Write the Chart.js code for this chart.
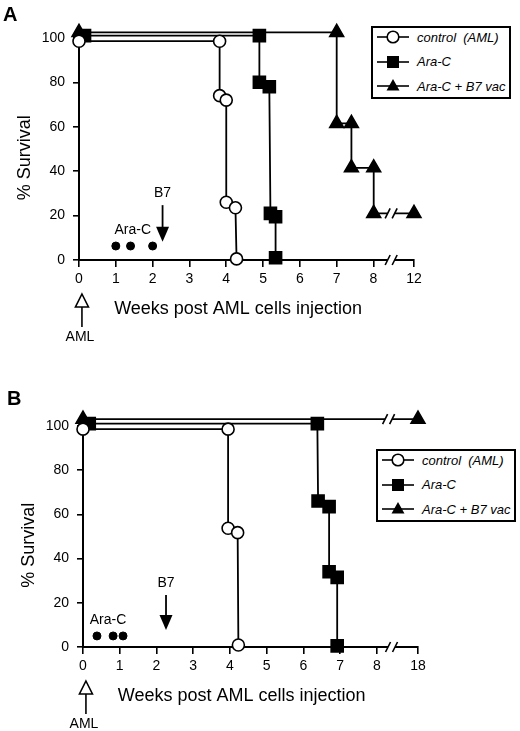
<!DOCTYPE html>
<html>
<head>
<meta charset="utf-8">
<script src="https://cdn.jsdelivr.net/npm/chart.js@4.4.1/dist/chart.umd.min.js"></script>
<style>
  html, body { margin: 0; padding: 0; background: #fff; }
  body { width: 520px; height: 731px; overflow: hidden; font-family: "Liberation Sans", Arial, sans-serif; }
  .panel { position: relative; width: 520px; }
  .panel canvas { position: absolute; left: 0; top: 0; }
  .tag { position: absolute; font-weight: bold; font-size: 20px; line-height: 1; }
  .legend { position: absolute; width: 136px; height: 69px; border: 2px solid #000; background: #fff;
            display: flex; flex-direction: column; gap: 6.5px; }
  .legend .row { height: 18px; display: flex; align-items: center; font-style: italic; font-size: 13px; white-space: pre; }
  .legend svg { flex: none; margin-right: 4px; }
</style>
</head>
<body>
<div class="panel" style="height:365px">
  <canvas id="chartA" width="520" height="365"></canvas>
  <div class="tag" style="left:3px;top:4px">A</div>
  <div class="legend" id="legendA" style="left:371px;top:26px"></div>
</div>
<div class="panel" style="height:366px">
  <canvas id="chartB" width="520" height="366"></canvas>
  <div class="tag" style="left:7px;top:23px">B</div>
  <div class="legend" id="legendB" style="left:376px;top:84px"></div>
</div>
<script>
// series names (legend order)
const seriesNames = ['control  (AML)', 'Ara-C', 'Ara-C + B7 vac'];
const yTicks = [0, 20, 40, 60, 80, 100];

// panel A
const xTicksA = [0, 1, 2, 3, 4, 5, 6, 7, 8, 12];
const controlWeeksA = [0, 3.82, 3.82, 4.0, 4.0, 4.25, 4.28];
const controlSurvA  = [98.5, 98.5, 74, 72, 26, 23.5, 0.5];
const araWeeksA = [0.15, 4.9, 4.9, 5.17, 5.2, 5.34, 5.34];
const araSurvA  = [101, 101, 80, 78, 21, 19.5, 1];
const vacWeeksA = [0, 7.0, 7.0, 7.4, 7.4, 8.02, 8.02, 12];
const vacSurvA  = [102.5, 102.5, 61.5, 61.5, 41.5, 41.5, 21, 21];
const araDosesA = [1, 1.4, 2];

// panel B
const xTicksB = [0, 1, 2, 3, 4, 5, 6, 7, 8, 18];
const controlWeeksB = [0, 3.95, 3.95, 4.21, 4.23];
const controlSurvB  = [98.5, 98.5, 53.7, 51.7, 0.9];
const araWeeksB = [0.17, 6.38, 6.4, 6.7, 6.7, 6.92, 6.92];
const araSurvB  = [101, 101, 66, 63.5, 34, 31.5, 0.5];
const vacWeeksB = [0, 18];
const vacSurvB  = [103, 103];
const araDosesB = [0.38, 0.82, 1.09];

const FONT = '"Liberation Sans", Arial, sans-serif';
const markers = [
  { style: 'circle',   radius: 6,   fill: '#fff' },
  { style: 'rect',     radius: 8.5, fill: '#000' },
  { style: 'triangle', radius: 8,   fill: '#000' }
];

// legend boxes (html, real text)
function buildLegend(id) {
  const box = document.getElementById(id);
  const icons = [
    '<circle cx="16" cy="9" r="5.8" fill="#fff" stroke="#000" stroke-width="1.6"/>',
    '<rect x="10" y="3" width="12" height="12" fill="#000"/>',
    '<polygon points="16,2 22.5,13.5 9.5,13.5" fill="#000"/>'
  ];
  seriesNames.forEach((name, i) => {
    const row = document.createElement('div');
    row.className = 'row';
    row.innerHTML = '<svg width="36" height="18" style="margin-left:4px"><line x1="0" y1="9" x2="32" y2="9" stroke="#000" stroke-width="1.6"/>' +
      icons[i] + '</svg><span>' + name + '</span>';
    box.appendChild(row);
  });
}

function drawBreak(ctx, cx, cy) {
  ctx.fillStyle = '#fff';
  ctx.fillRect(cx - 3.5, cy - 3, 7, 6);
  ctx.strokeStyle = '#000';
  ctx.lineWidth = 1.6;
  [-3.5, 3.5].forEach(dx => {
    ctx.beginPath();
    ctx.moveTo(cx + dx - 2.5, cy + 5);
    ctx.lineTo(cx + dx + 2.5, cy - 5);
    ctx.stroke();
  });
}

function buildPanel(canvasId, p) {
  const toPos = w => w <= 8 ? w : 8 + (w - 8) * p.breakScale;
  const pts = (xs, ys) => xs.map((x, i) => ({ x: toPos(x), y: ys[i] }));
  const tickPos = p.xTicks.map(toPos);

  const series = [
    pts(p.controlWeeks, p.controlSurv),
    pts(p.araWeeks, p.araSurv),
    pts(p.vacWeeks, p.vacSurv)
  ];
  const datasets = series.map((data, i) => ({
    label: seriesNames[i],
    data: data,
    showLine: true,
    borderColor: '#000',
    borderWidth: 1.8,
    pointStyle: markers[i].style,
    pointRadius: markers[i].radius,
    pointBackgroundColor: markers[i].fill,
    pointBorderColor: '#000',
    pointBorderWidth: 1.6,
    clip: false
  }));
  datasets.push({
    label: 'Ara-C doses',
    data: p.doses.map(w => ({ x: w, y: p.doseY })),
    showLine: false,
    pointStyle: 'circle',
    pointRadius: 4,
    pointBackgroundColor: '#000',
    pointBorderColor: '#000',
    clip: false
  });

  const annot = {
    id: 'annot',
    afterDraw(chart) {
      const { ctx, scales: { x, y } } = chart;
      const axisY = y.getPixelForValue(0);
      ctx.save();
      // axis breaks
      drawBreak(ctx, x.getPixelForValue(p.breakAxis), axisY);
      drawBreak(ctx, x.getPixelForValue(p.breakLine), y.getPixelForValue(p.breakLineY));

      ctx.fillStyle = '#000';
      ctx.strokeStyle = '#000';
      ctx.textAlign = 'center';
      ctx.textBaseline = 'middle';

      // Ara-C label
      ctx.font = '14px ' + FONT;
      ctx.fillText('Ara-C', x.getPixelForValue(p.araLabel[0]), y.getPixelForValue(p.araLabel[1]));

      // B7 arrow
      const bx = x.getPixelForValue(p.b7[0]);
      ctx.fillText('B7', bx, y.getPixelForValue(p.b7[1]));
      const top = y.getPixelForValue(p.b7[2]);
      const tip = y.getPixelForValue(p.b7[3]);
      ctx.lineWidth = 1.8;
      ctx.beginPath(); ctx.moveTo(bx, top); ctx.lineTo(bx, tip - 12); ctx.stroke();
      ctx.beginPath(); ctx.moveTo(bx - 6.5, tip - 15); ctx.lineTo(bx + 6.5, tip - 15); ctx.lineTo(bx, tip); ctx.closePath(); ctx.fill();

      // AML arrow below the axis
      const ax = x.getPixelForValue(0.08);
      ctx.lineWidth = 1.6;
      ctx.beginPath(); ctx.moveTo(ax, axisY + 34); ctx.lineTo(ax + 6.5, axisY + 47); ctx.lineTo(ax - 6.5, axisY + 47); ctx.closePath(); ctx.stroke();
      ctx.beginPath(); ctx.moveTo(ax, axisY + 47); ctx.lineTo(ax, axisY + 67); ctx.stroke();
      ctx.fillText('AML', ax - 2, axisY + 77);

      // axis titles
      ctx.font = '18px ' + FONT;
      ctx.fillText('Weeks post AML cells injection', x.getPixelForValue(4.32), axisY + 49);
      ctx.translate(x.getPixelForValue(0) - 54, y.getPixelForValue(46));
      ctx.rotate(-Math.PI / 2);
      ctx.fillText('% Survival', 0, 0);
      ctx.restore();
    }
  };

  return new Chart(document.getElementById(canvasId), {
    type: 'scatter',
    data: { datasets },
    options: {
      responsive: false,
      animation: false,
      events: [],
      layout: { padding: { left: 0, right: p.padRight, top: p.padTop, bottom: 0 } },
      elements: { line: { tension: 0 } },
      plugins: { legend: { display: false }, tooltip: { enabled: false } },
      scales: {
        x: {
          type: 'linear',
          min: 0,
          max: toPos(p.xTicks[p.xTicks.length - 1]),
          afterFit: s => { s.height = p.xHeight; },
          afterBuildTicks: s => { s.ticks = tickPos.map(v => ({ value: v })); },
          grid: { display: true, drawOnChartArea: false, drawTicks: true, tickLength: 7, color: '#000', lineWidth: 1.6 },
          border: { display: true, color: '#000', width: 2 },
          ticks: {
            autoSkip: false, maxRotation: 0, padding: 4, color: '#000',
            font: { family: FONT, size: 14 },
            callback: v => {
              const i = tickPos.findIndex(t => Math.abs(t - v) < 1e-6);
              return i < 0 ? '' : String(p.xTicks[i]);
            }
          }
        },
        y: {
          min: 0,
          max: 104,
          afterFit: s => { s.width = p.yWidth; },
          afterBuildTicks: s => { s.ticks = yTicks.map(v => ({ value: v })); },
          grid: { display: true, drawOnChartArea: false, drawTicks: true, tickLength: 6, color: '#000', lineWidth: 1.6 },
          border: { display: true, color: '#000', width: 2 },
          ticks: { padding: 8, color: '#000', font: { family: FONT, size: 14 } }
        }
      }
    },
    plugins: [annot]
  });
}

buildLegend('legendA');
buildLegend('legendB');

buildPanel('chartA', {
  xTicks: xTicksA, breakScale: 1.1 / 4,
  controlWeeks: controlWeeksA, controlSurv: controlSurvA,
  araWeeks: araWeeksA, araSurv: araSurvA,
  vacWeeks: vacWeeksA, vacSurv: vacSurvA,
  doses: araDosesA, doseY: 6.3,
  araLabel: [1.46, 13.5], b7: [2.27, 30, 24.7, 8.2],
  breakAxis: 8.48, breakLine: 8.48, breakLineY: 21,
  padRight: 106, padTop: 29, yWidth: 79, xHeight: 105
});

buildPanel('chartB', {
  xTicks: xTicksB, breakScale: 1.12 / 10,
  controlWeeks: controlWeeksB, controlSurv: controlSurvB,
  araWeeks: araWeeksB, araSurv: araSurvB,
  vacWeeks: vacWeeksB, vacSurv: vacSurvB,
  doses: araDosesB, doseY: 5,
  araLabel: [0.68, 12.2], b7: [2.26, 29, 23.5, 7.7],
  breakAxis: 8.4, breakLine: 8.32, breakLineY: 103,
  padRight: 102, padTop: 52, yWidth: 83, xHeight: 84
});
</script>
</body>
</html>
